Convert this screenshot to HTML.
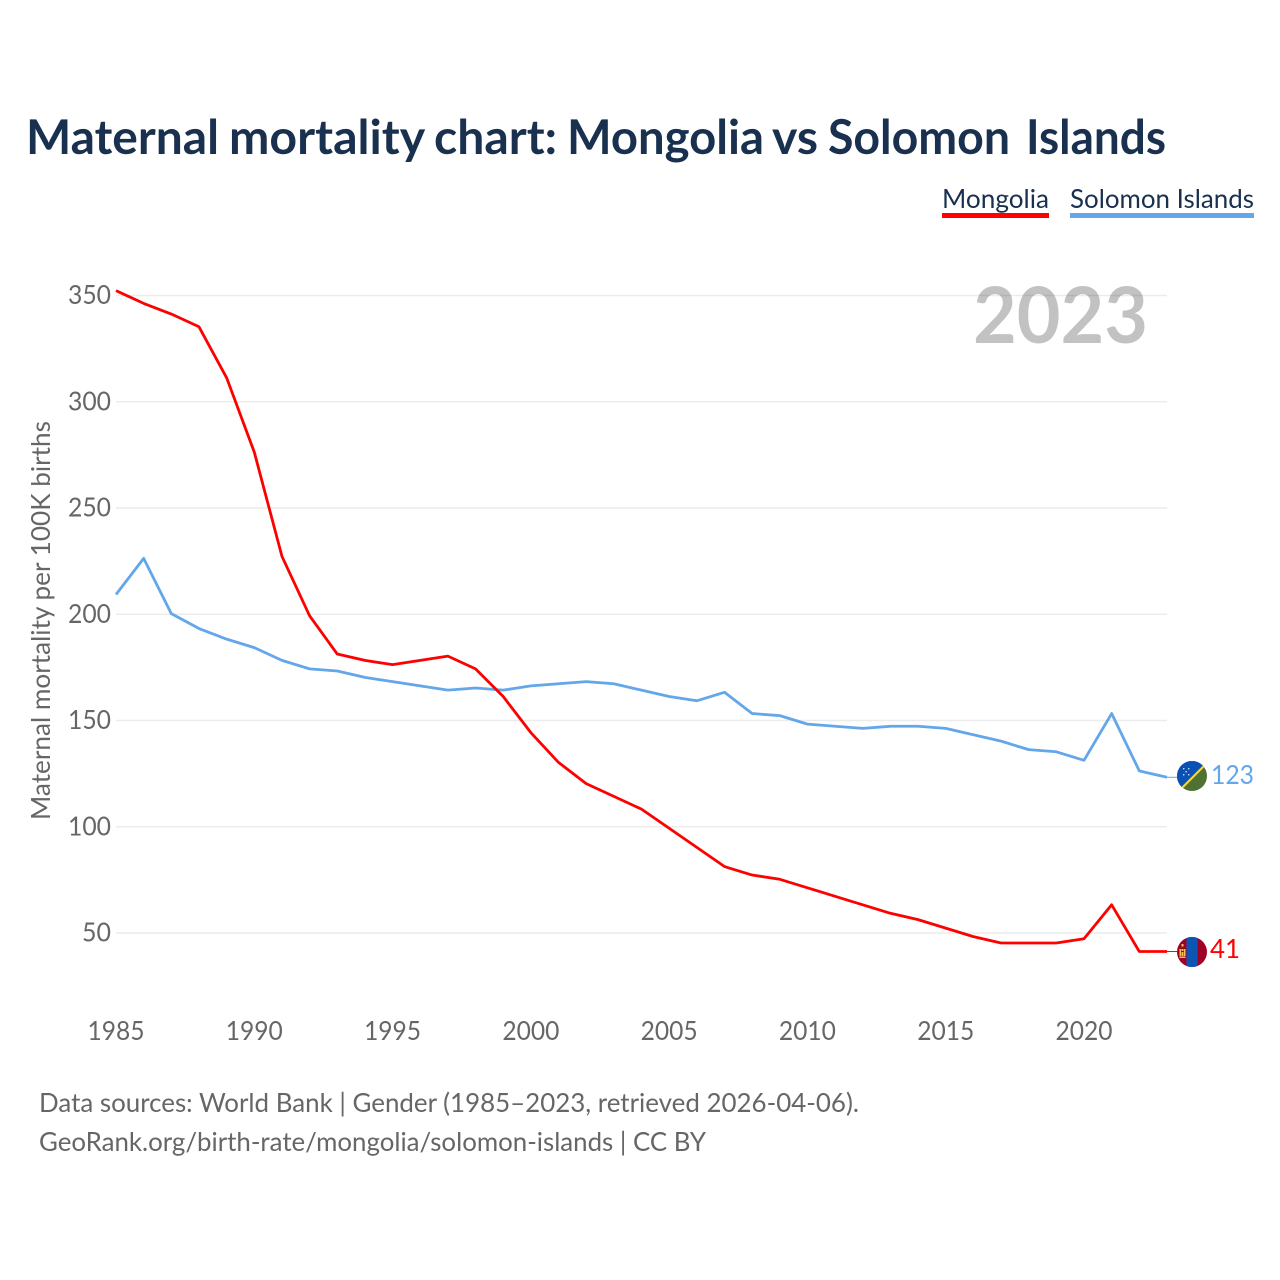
<!DOCTYPE html>
<html>
<head>
<meta charset="utf-8">
<style>
html,body{margin:0;padding:0;background:#fff;}
svg{display:block;}
text{font-family:"Lato","Carlito","Liberation Sans",sans-serif;}
</style>
</head>
<body>
<svg id="chart" xmlns="http://www.w3.org/2000/svg" width="1280" height="1280" viewBox="0 0 1280 1280">
  <rect width="1280" height="1280" fill="#ffffff"/>
  <text y="154" font-size="48" font-weight="700" fill="#19304f"><tspan x="26" textLength="193" lengthAdjust="spacingAndGlyphs">Maternal</tspan> <tspan x="229" textLength="195" lengthAdjust="spacingAndGlyphs">mortality</tspan> <tspan x="434" textLength="123" lengthAdjust="spacingAndGlyphs">chart:</tspan> <tspan x="567" textLength="197" lengthAdjust="spacingAndGlyphs">Mongolia</tspan> <tspan x="772" textLength="46" lengthAdjust="spacingAndGlyphs">vs</tspan> <tspan x="828" textLength="182" lengthAdjust="spacingAndGlyphs">Solomon</tspan> <tspan x="1026" textLength="140" lengthAdjust="spacingAndGlyphs">Islands</tspan></text>
  <g>
    <text x="942" y="208" font-size="26" fill="#19304f" textLength="107" lengthAdjust="spacingAndGlyphs">Mongolia</text>
    <rect x="942" y="213" width="107" height="5" fill="#ff0000"/>
  </g>
  <g>
    <text x="1070" y="208" font-size="26" fill="#19304f" textLength="184" lengthAdjust="spacingAndGlyphs">Solomon Islands</text>
    <rect x="1070" y="213" width="184" height="5" fill="#64a6ea"/>
  </g>
  <g id="grid"></g>
  <g id="yticks"></g>
  <g id="xticks"></g>
  <text transform="translate(50,820) rotate(-90)" font-size="26" fill="#666666" textLength="399" lengthAdjust="spacingAndGlyphs">Maternal mortality per 100K births</text>
  <text x="973" y="343" font-size="78" font-weight="700" fill="#000000" fill-opacity="0.24" textLength="175" lengthAdjust="spacingAndGlyphs">2023</text>
  <g id="series" transform="translate(0,-0.6)"></g>
  <g>
    <clipPath id="clip-sb"><circle cx="1192" cy="776" r="15"/></clipPath>
    <g clip-path="url(#clip-sb)">
      <rect x="1177" y="761" width="30" height="30" fill="#4f7132"/>
      <polygon points="1177,761 1207,761 1177,791" fill="#0a51b5"/>
      <line x1="1179" y1="791" x2="1207" y2="763" stroke="#f2d94e" stroke-width="2"/>
      <g fill="#ffffff" fill-opacity="0.8">
        <rect x="1183" y="768" width="1.4" height="1.4"/><rect x="1188" y="768" width="1.4" height="1.4"/>
        <rect x="1185.5" y="771" width="1.4" height="1.4"/>
        <rect x="1183" y="774" width="1.4" height="1.4"/><rect x="1188" y="774" width="1.4" height="1.4"/>
      </g>
    </g>
  </g>
  <g>
    <clipPath id="clip-mn"><circle cx="1192" cy="952" r="15"/></clipPath>
    <g clip-path="url(#clip-mn)">
      <rect x="1177" y="937" width="30" height="30" fill="#a00226"/>
      <rect x="1186.5" y="937" width="11" height="30" fill="#0b55b5"/>
      <g fill="#f2c84e">
        <rect x="1181.5" y="944" width="2" height="2.5"/>
        <rect x="1179.5" y="949" width="1.5" height="7"/><rect x="1184" y="949" width="1.5" height="7"/>
        <rect x="1181.5" y="949" width="2" height="2"/><rect x="1181.5" y="952" width="2" height="4"/>
        <rect x="1179.5" y="956.5" width="6" height="1.5"/>
      </g>
    </g>
  </g>
  <text id="end-label-sb" x="1211" y="784" font-size="26" fill="#64a6ea" textLength="43" lengthAdjust="spacingAndGlyphs"></text>
  <text id="end-label-mn" x="1210" y="958" font-size="26" fill="#ff0000" textLength="30" lengthAdjust="spacingAndGlyphs"></text>
  <text x="39" y="1112" font-size="26" fill="#666666" textLength="820" lengthAdjust="spacingAndGlyphs">Data sources: World Bank | Gender (1985–2023, retrieved 2026-04-06).</text>
  <text x="39" y="1151" font-size="26" fill="#666666" textLength="667" lengthAdjust="spacingAndGlyphs">GeoRank.org/birth-rate/mongolia/solomon-islands | CC BY</text>
</svg>
<script>
const years = [1985,1986,1987,1988,1989,1990,1991,1992,1993,1994,1995,1996,1997,1998,1999,2000,2001,2002,2003,2004,2005,2006,2007,2008,2009,2010,2011,2012,2013,2014,2015,2016,2017,2018,2019,2020,2021,2022,2023];
const mongolia = [352,346,341,335,311,276,227,199,181,178,176,178,180,174,161,144,130,120,114,108,99,90,81,77,75,71,67,63,59,56,52,48,45,45,45,47,63,41,41];
const solomonIslands = [209,226,200,193,188,184,178,174,173,170,168,166,164,165,164,166,167,168,167,164,161,159,163,153,152,148,147,146,147,147,146,143,140,136,135,131,153,126,123];
const yTickValues = [50,100,150,200,250,300,350];
const xTickValues = [1985,1990,1995,2000,2005,2010,2015,2020];

const NS = 'http://www.w3.org/2000/svg';
function xScale(year){ return 116 + (year - 1985) * (1084 - 116) / 35; }
function yScale(v){ return 933 - (v - 50) * (933 - 295.5) / 300; }

const grid = document.getElementById('grid');
const yticks = document.getElementById('yticks');
const xticks = document.getElementById('xticks');
const series = document.getElementById('series');

yTickValues.forEach(function(v){
  const line = document.createElementNS(NS, 'line');
  
  
  line.setAttribute('x1', 116);
  line.setAttribute('x2', 1167);
  line.setAttribute('y1', yScale(v));
  line.setAttribute('y2', yScale(v));
  line.setAttribute('stroke', '#ececec');
  line.setAttribute('stroke-width', 1.5);
  grid.appendChild(line);
  const t = document.createElementNS(NS, 'text');
  
  
  t.setAttribute('x', 111);
  t.setAttribute('y', yScale(v) + 8.5);
  t.setAttribute('text-anchor', 'end');
  t.setAttribute('font-size', 26);
  t.setAttribute('fill', '#666666');
  t.setAttribute('textLength', String(v).length === 3 ? 43 : 29);
  t.setAttribute('lengthAdjust', 'spacingAndGlyphs');
  t.textContent = v;
  yticks.appendChild(t);
});

xTickValues.forEach(function(y){
  const t = document.createElementNS(NS, 'text');
  
  
  t.setAttribute('x', xScale(y));
  t.setAttribute('y', 1040);
  t.setAttribute('text-anchor', 'middle');
  t.setAttribute('font-size', 26);
  t.setAttribute('fill', '#666666');
  t.setAttribute('textLength', 57);
  t.setAttribute('lengthAdjust', 'spacingAndGlyphs');
  t.textContent = y;
  xticks.appendChild(t);
});

function drawSeries(values, color, name){
  const pts = values.map(function(v, i){ return xScale(years[i]).toFixed(2) + ',' + yScale(v).toFixed(2); }).join(' ');
  const line = document.createElementNS(NS, 'polyline');
  
  
  line.setAttribute('points', pts);
  line.setAttribute('fill', 'none');
  line.setAttribute('stroke', color);
  line.setAttribute('stroke-width', 2.8);
  line.setAttribute('stroke-linejoin', 'round');
  series.appendChild(line);
  const last = values[values.length - 1];
  const lead = document.createElementNS(NS, 'line');
  
  
  lead.setAttribute('x1', xScale(years[years.length - 1]));
  lead.setAttribute('x2', 1177);
  lead.setAttribute('y1', yScale(last));
  lead.setAttribute('y2', yScale(last));
  lead.setAttribute('stroke', color);
  lead.setAttribute('stroke-width', 1);
  series.appendChild(lead);
}
drawSeries(solomonIslands, '#64a6ea', 'solomon-islands');
drawSeries(mongolia, '#ff0000', 'mongolia');

document.getElementById('end-label-sb').textContent = solomonIslands[solomonIslands.length - 1];
document.getElementById('end-label-mn').textContent = mongolia[mongolia.length - 1];
</script>
</body>
</html>
